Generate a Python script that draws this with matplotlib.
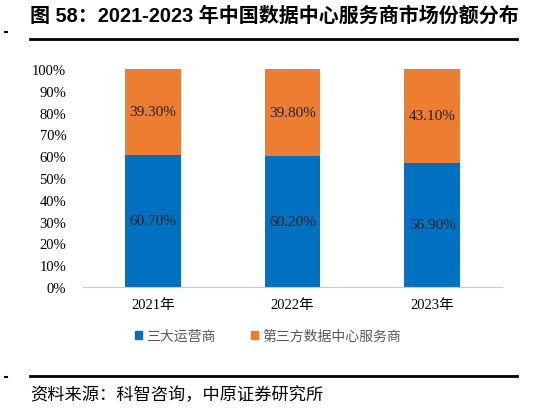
import matplotlib
matplotlib.use("Agg")
import matplotlib.pyplot as plt
from matplotlib.patches import Patch

years = ["2021年", "2022年", "2023年"]
operators = [60.7, 60.2, 56.9]
third_party = [39.3, 39.8, 43.1]
series_names = ["三大运营商", "第三方数据中心服务商"]
yticks = [0, 10, 20, 30, 40, 50, 60, 70, 80, 90, 100]

blue = "#0070C0"
orange = "#ED7D31"
serif = ["Liberation Serif", "Noto Sans CJK SC"]
cjk = ["Noto Sans CJK SC", "DejaVu Sans"]

fig = plt.figure(figsize=(5.37, 4.10), dpi=100)
W, H = 537, 410

# plot area in pixels: x 83..502, y 70..288
ax = fig.add_axes([83 / W, 1 - 288 / H, (502 - 83) / W, (288 - 70) / H])
x = list(range(len(years)))
ax.bar(x, operators, width=0.4, color=blue)
ax.bar(x, third_party, width=0.4, bottom=operators, color=orange)

for i in x:
    ax.text(i, operators[i] / 2, f"{operators[i]:.2f}%", ha="center", va="center",
            fontsize=11, family=serif, color="#222222")
    ax.text(i, operators[i] + third_party[i] / 2, f"{third_party[i]:.2f}%", ha="center",
            va="center", fontsize=11, family=serif, color="#222222")

ax.set_xlim(-0.5, 2.5)
ax.set_ylim(0, 100)
ax.set_yticks(yticks)
ax.set_yticklabels([f"{v}%" for v in yticks], family=serif, fontsize=10.5)
ax.set_xticks(x)
ax.set_xticklabels(years, family=serif, fontsize=10.5)
ax.tick_params(length=0, pad=12)
ax.tick_params(axis="x", pad=8)
for s in ["top", "right", "left"]:
    ax.spines[s].set_visible(False)
ax.spines["bottom"].set_color("#C8C8C8")

handles = [Patch(color=blue), Patch(color=orange)]
leg = fig.legend(handles, series_names, loc="center", bbox_to_anchor=(268 / W, 1 - 337 / H),
                 ncol=2, frameon=False, prop={"family": cjk, "size": 10},
                 handlelength=0.55, handleheight=0.55, handletextpad=0.3, columnspacing=2.5)
for t in leg.get_texts():
    t.set_color("#595959")

# title, rules and source
fig.text(30 / W, 1 - 16 / H, "图 58：2021-2023 年中国数据中心服务商市场份额分布",
         family=["Liberation Sans", "Noto Sans CJK SC"], fontweight="bold",
         fontsize=14.4, va="center", ha="left")
fig.add_artist(plt.Line2D([30 / W, 517 / W], [1 - 40 / H, 1 - 40 / H], color="black", lw=2))
fig.add_artist(plt.Line2D([30 / W, 517 / W], [1 - 377 / H, 1 - 377 / H], color="black", lw=2))
fig.add_artist(plt.Line2D([5 / W, 7 / W], [1 - 33 / H, 1 - 33 / H], color="black", lw=1.5))
fig.add_artist(plt.Line2D([5 / W, 7 / W], [1 - 378 / H, 1 - 378 / H], color="black", lw=1.5))
fig.text(30 / W, 1 - 395 / H, "资料来源：科智咨询，中原证券研究所", family=cjk,
         fontsize=12.4, va="center", ha="left")

fig.savefig("out.png", dpi=100)
